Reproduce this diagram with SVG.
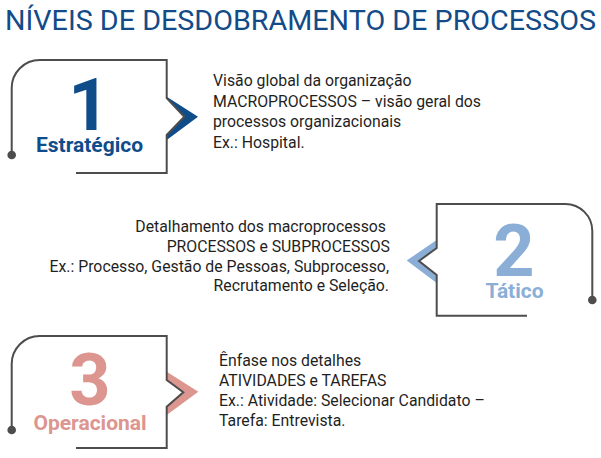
<svg xmlns="http://www.w3.org/2000/svg" width="601" height="458" viewBox="0 0 601 458">
<style>
.frame{fill:none;stroke:#4d4d4d;stroke-width:2}
.dot{fill:#4d4d4d}
.title{font-family:Roboto,"Liberation Sans",sans-serif;font-size:28px;fill:#124b88}
.num{font-family:Roboto,"Liberation Sans",sans-serif;font-size:72px;font-weight:700;text-anchor:middle}
.lbl{font-family:Roboto,"Liberation Sans",sans-serif;font-size:21px;font-weight:700;text-anchor:middle}
.body{font-family:Roboto,"Liberation Sans",sans-serif;font-size:15.8px;fill:#1f1f1f}
.end{text-anchor:end}
</style>
<rect width="601" height="458" fill="#ffffff"/>
<text class="title" x="5" y="30" textLength="591" lengthAdjust="spacingAndGlyphs">NÍVEIS DE DESDOBRAMENTO DE PROCESSOS</text>
<g id="connectors">
<polygon points="166.7,96.7 198,116.7 166.7,140 166.7,135 184.3,116.7 166.7,98" fill="#0f4c8a"/>
<polygon points="436.7,240 406.7,260.5 436.7,283 436.7,275 419,261 436.7,248" fill="#8aaed6"/>
<polygon points="166.7,371.7 198.3,391.7 166.7,415 166.7,406.7 183.3,392.3 166.7,380" fill="#dc958f"/>
</g>
<g id="node-estrategico">
<path class="frame" d="M11.7,155 V88 A28,28 0 0 1 39.7,60 H166.7 V98 L184.3,116.7 L166.7,135 V173 H76"/>
<circle class="dot" cx="11.7" cy="155" r="4.3"/>
<text class="num" x="89" y="130" fill="#0f4c8a">1</text>
<text class="lbl" x="89.5" y="152" fill="#0f4c8a">Estratégico</text>
<text class="body" x="213" y="86">Visão global da organização</text>
<text class="body" x="213" y="107">MACROPROCESSOS – visão geral dos</text>
<text class="body" x="213" y="127">processos organizacionais</text>
<text class="body" x="213" y="148">Ex.: Hospital.</text>
</g>
<g id="node-tatico">
<path class="frame" d="M592.3,300 V231 A27,27 0 0 0 565.3,204 H436.7 V248 L419,261 L436.7,275 V315.7 H527"/>
<circle class="dot" cx="592.3" cy="300" r="4.3"/>
<text class="num" x="514" y="276" fill="#8aaed6">2</text>
<text class="lbl" x="514.5" y="298" fill="#8aaed6">Tático</text>
<text class="body end" x="386" y="232">Detalhamento dos macroprocessos</text>
<text class="body end" x="390" y="252">PROCESSOS e SUBPROCESSOS</text>
<text class="body end" x="389" y="272">Ex.: Processo, Gestão de Pessoas, Subprocesso,</text>
<text class="body end" x="389" y="291">Recrutamento e Seleção.</text>
</g>
<g id="node-operacional">
<path class="frame" d="M11.7,430 V364 A28,28 0 0 1 39.7,336 H166.7 V380 L183.3,392.3 L166.7,406.7 V448 H76"/>
<circle class="dot" cx="11.7" cy="430" r="4.3"/>
<text class="num" x="90" y="405" fill="#dc958f">3</text>
<text class="lbl" x="90" y="430" fill="#dc958f">Operacional</text>
<text class="body" x="219" y="365.5">Ênfase nos detalhes</text>
<text class="body" x="219" y="385.5">ATIVIDADES e TAREFAS</text>
<text class="body" x="219" y="405.5">Ex.: Atividade: Selecionar Candidato –</text>
<text class="body" x="219" y="425.5">Tarefa: Entrevista.</text>
</g>
</svg>
